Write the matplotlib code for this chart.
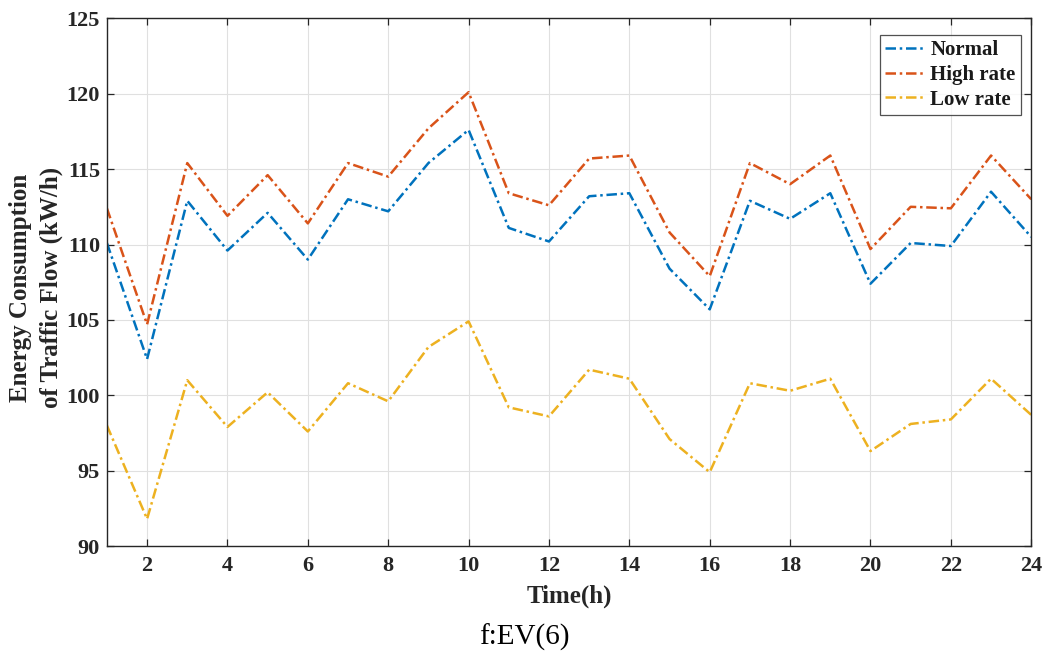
import matplotlib
matplotlib.use("Agg")
import matplotlib.pyplot as plt

hours = list(range(1, 25))
normal = [110.1, 102.4, 112.9, 109.6, 112.1, 109.0, 113.0, 112.2, 115.4, 117.6,
          111.1, 110.2, 113.2, 113.4, 108.4, 105.7, 112.9, 111.7, 113.4, 107.4,
          110.1, 109.9, 113.5, 110.5]
high_rate = [112.4, 104.7, 115.4, 111.9, 114.6, 111.4, 115.4, 114.5, 117.7, 120.1,
             113.4, 112.6, 115.7, 115.9, 110.8, 107.9, 115.4, 114.0, 115.9, 109.7,
             112.5, 112.4, 115.9, 113.0]
low_rate = [98.0, 91.8, 101.0, 97.9, 100.2, 97.6, 100.8, 99.6, 103.2, 104.9,
            99.2, 98.6, 101.7, 101.1, 97.1, 94.9, 100.8, 100.3, 101.1, 96.3,
            98.1, 98.4, 101.1, 98.7]
series_names = ["Normal", "High rate", "Low rate"]
colors = ["#0072BD", "#D95319", "#EDB120"]

xticks = list(range(2, 25, 2))
yticks = list(range(90, 126, 5))

plt.rcParams["font.family"] = ["Liberation Serif", "DejaVu Serif"]

fig = plt.figure(figsize=(10.48, 6.54), dpi=100)
ax = fig.add_axes([0.102, 0.165, 0.882, 0.807])

for vals, name, c in zip([normal, high_rate, low_rate], series_names, colors):
    ax.plot(hours, vals, color=c, lw=1.8, linestyle=(0, (4.2, 1.5, 1.0, 1.5)), label=name)

ax.set_xlim(1, 24)
ax.set_ylim(90, 125)
ax.set_xticks(xticks)
ax.set_yticks(yticks)
ax.grid(True, color="#e0e0e0", lw=0.8)
ax.set_axisbelow(True)
ax.tick_params(direction="in", length=5, width=0.9, top=True, right=True,
               labelsize=16, color="#262626", labelcolor="#262626")
ax.tick_params(axis="x", pad=7)
ax.tick_params(axis="y", pad=5)
for lab in ax.get_xticklabels() + ax.get_yticklabels():
    lab.set_fontweight("bold")
for sp in ax.spines.values():
    sp.set_color("#262626")
    sp.set_linewidth(1.0)

ax.set_xlabel("Time(h)", fontsize=18, fontweight="bold", color="#262626")
ax.xaxis.set_label_coords(0.5, -0.072)
ax.set_ylabel("Energy Consumption\nof Traffic Flow (kW/h)", fontsize=18,
              fontweight="bold", linespacing=1.4, color="#262626")
ax.yaxis.set_label_coords(-0.048, 0.49)

leg = ax.legend(loc="upper right", prop={"weight": "bold", "size": 15},
                frameon=True, fancybox=False, edgecolor="#262626", handlelength=1.9,
                handletextpad=0.25, borderpad=0.25, labelspacing=0.22,
                borderaxespad=0.0, bbox_to_anchor=(0.9885, 0.968))
leg.get_frame().set_linewidth(0.9)
for t in leg.get_texts():
    t.set_color("#1a1a1a")

fig.text(0.5, 0.026, "f:EV(6)", ha="center", va="center", fontsize=21)

fig.savefig("out.png", dpi=100)
